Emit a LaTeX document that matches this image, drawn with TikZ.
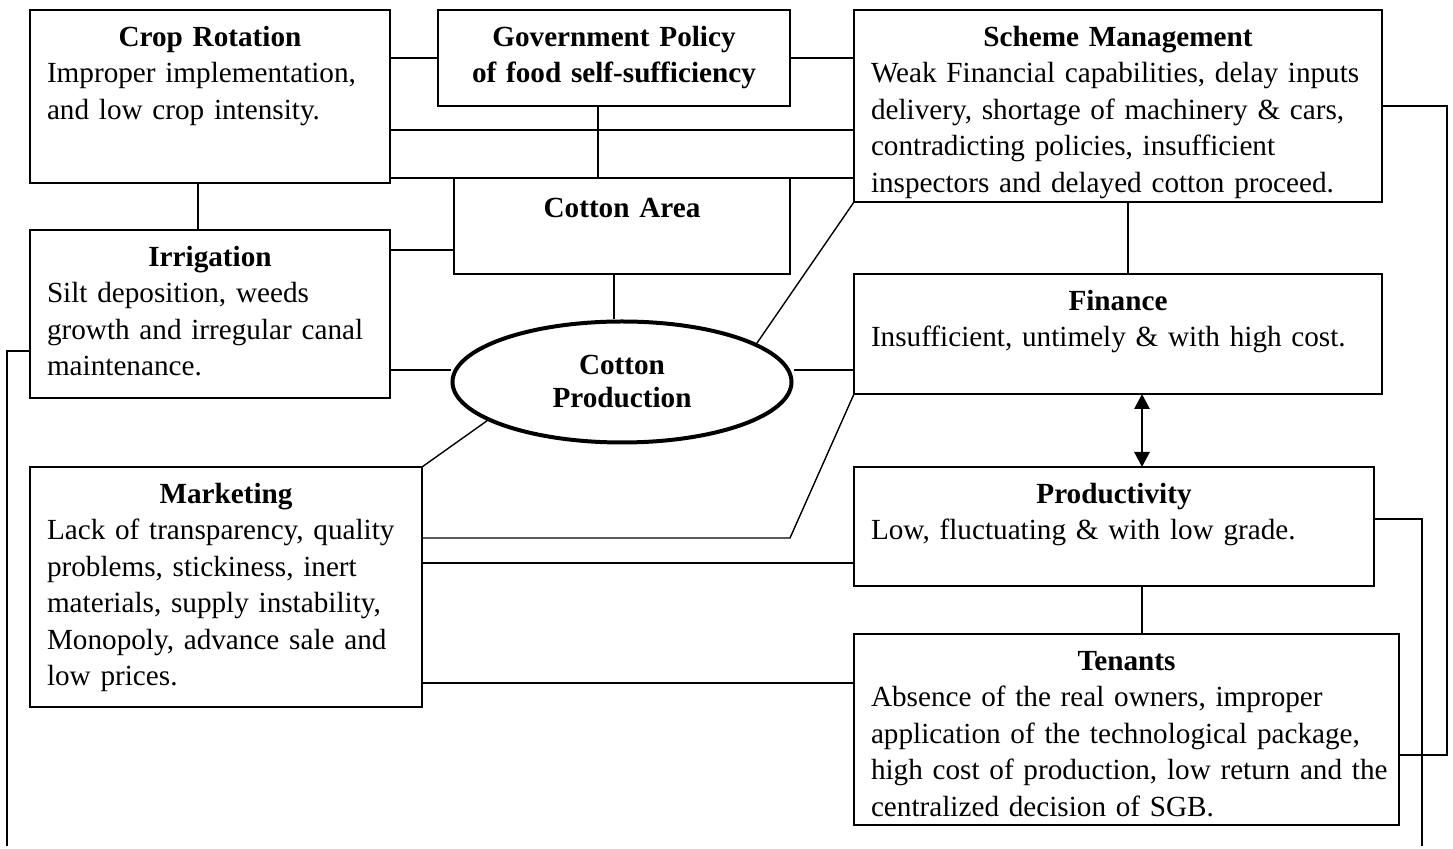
\documentclass[tikz,border=0pt]{standalone}
\usepackage{fontspec}
\setmainfont{Liberation Serif}
\usetikzlibrary{arrows.meta, shapes.geometric}
\setlength{\parindent}{0pt}

% bold heading line centred across a box, then left-set body lines
\newcommand{\boxtitle}[1]{{\centering\bfseries #1\par}}
\newcommand{\boxbody}[1]{\begin{tabular}[t]{@{}l@{}}#1\end{tabular}}

\begin{document}
\begin{tikzpicture}[
  x=0.5pt, y=-0.5pt,
  fact/.style = {rectangle, draw=black, line width=0.9pt, anchor=north west,
                 inner xsep=8.5pt, inner ysep=0pt, outer sep=0pt,
                 text height=18.25pt,
                 font=\fontsize{14.6}{18.25}\selectfont},
  core/.style = {ellipse, draw=black, line width=2pt, inner sep=0pt,
                 minimum width=169.5pt, minimum height=60.5pt, align=center,
                 font=\fontsize{14.6}{16.5}\selectfont\bfseries},
  link/.style = {line width=0.7pt},
  dbl/.style  = {{Triangle[width=7.5pt,length=7.5pt]}-{Triangle[width=7.5pt,length=7.5pt]},
                 line width=1.4pt}
]
\useasboundingbox (0,0) rectangle (1453,849);

\node[fact, text width=163pt, text depth=68.25pt] (crop) at (30,10)
  {\boxtitle{Crop Rotation}\boxbody{Improper implementation,\\and low crop intensity.}};
\node[fact, text width=159pt, text depth=29.75pt] (gov) at (438,10)
  {\boxtitle{Government Policy\\of food self-sufficiency}};
\node[fact, text width=247pt, text depth=77.75pt] (scheme) at (854,10)
  {\boxtitle{Scheme Management}\boxbody{Weak Financial capabilities, delay inputs\\
   delivery, shortage of machinery \& cars,\\contradicting policies, insufficient\\
   inspectors and delayed cotton proceed.}};
\node[fact, text width=151pt, text height=20pt, text depth=28pt] (area) at (454,178)
  {\boxtitle{Cotton Area}};
\node[fact, text width=163pt, text depth=65.75pt] (irr) at (30,230)
  {\boxtitle{Irrigation}\boxbody{Silt deposition, weeds\\growth and irregular canal\\maintenance.}};
\node[fact, text width=247pt, text depth=41.75pt] (fin) at (854,274)
  {\boxtitle{Finance}\boxbody{Insufficient, untimely \& with high cost.}};
\node[core] (core) at (622,382) {Cotton\\Production};
\node[fact, text width=179pt, text depth=101.75pt] (mkt) at (30,467)
  {\boxtitle{Marketing}\boxbody{Lack of transparency, quality\\problems, stickiness, inert\\
   materials, supply instability,\\Monopoly, advance sale and\\low prices.}};
\node[fact, text width=243pt, text depth=41.25pt] (prod) at (854,467)
  {\boxtitle{Productivity}\boxbody{Low, fluctuating \& with low grade.}};
\node[fact, text width=255.5pt, text depth=77.25pt] (ten) at (854,634)
  {\boxtitle{Tenants}\boxbody{Absence of the real owners, improper\\
   application of the technological package,\\
   high cost of production, low return and the\\
   centralized decision of SGB.}};

% bend points and outer rails
\coordinate (bend) at (790,538);
\coordinate (railr) at (1447,755);
\coordinate (railp) at (1422,846);
\coordinate (raill) at (7,846);

% top block
\draw[link] (crop.east |- gov.west) -- (gov.west);
\draw[link] (gov.east) -- (gov.east -| scheme.west);
\draw[link] (crop.east |- 0,130) -- (scheme.west |- 0,130);
\draw[link] (crop.east |- area.north) -- (scheme.west |- area.north);
\draw[link] (gov.south -| 598,0) -- (598,0 |- area.north);
\draw[link] (198,0 |- crop.south) -- (198,0 |- irr.north);
\draw[link] (irr.east |- 0,250) -- (area.west |- 0,250);

% around the centre
\draw[link] (614,0 |- area.south) -- (614,0 |- core.north);
\draw[link] (irr.east |- 0,370) -- (core.west |- 0,370);
\draw[link] (core.east |- 0,370) -- (fin.west |- 0,370);
\draw[link] (core.16) -- (scheme.south west);
\draw[link] (core.196) -- (mkt.north east);

% right column
\draw[link] (1128,0 |- scheme.south) -- (1128,0 |- fin.north);
\draw[dbl] (1142,0 |- fin.south) -- (1142,0 |- prod.north);
\draw[link] (1142,0 |- prod.south) -- (1142,0 |- ten.north);

% marketing links
\draw[link] (fin.south west) -- (bend) -- (mkt.east |- bend);
\draw[link] (mkt.east |- 0,563) -- (prod.west |- 0,563);
\draw[link] (mkt.east |- 0,683) -- (ten.west |- 0,683);

% outer rails
\draw[link] (scheme.east) -| (railr) -- (ten.east |- railr);
\draw[link] (prod.east |- 0,519) -| (railp);
\draw[link] (irr.west |- 0,351) -| (raill);

\end{tikzpicture}
\end{document}
